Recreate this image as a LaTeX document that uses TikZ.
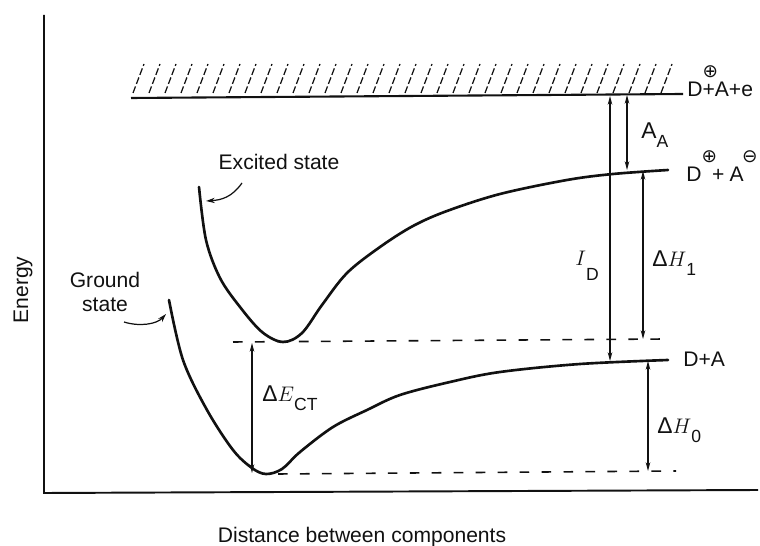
\documentclass[tikz,border=0pt]{standalone}
\usepackage{fontspec}
\setmainfont{Liberation Sans}
\newfontfamily\symfont{DejaVu Sans}
\usetikzlibrary{arrows.meta}
\definecolor{inkblack}{HTML}{111111}

\newcommand{\sbx}[2][-5pt]{\raisebox{#1}{\fontsize{10}{10}\selectfont #2}}
\newcommand{\chg}[1]{\rlap{\raisebox{11pt}{\symfont\fontsize{10.5}{10.5}\selectfont #1}}}

\tikzset{
  axisline/.style={inkblack, line width=1.1pt},
  pecurve/.style={inkblack, line width=1.5pt, line cap=round},
  levelline/.style={inkblack, line width=1.2pt},
  guide/.style={inkblack, line width=0.9pt, dash pattern=on 5.5pt off 7pt},
  hatchline/.style={inkblack, line width=0.7pt, dash pattern=on 4pt off 1.5pt},
  gap/.style={{Stealth[length=5pt,width=2.6pt]}-{Stealth[length=5pt,width=2.6pt]}, inkblack, line width=0.6pt},
  pointer/.style={-{Stealth[length=5pt,width=3pt]}, inkblack, line width=0.7pt},
  lbl/.style={inkblack, font=\fontsize{12}{14}\selectfont, inner sep=0pt},
  mlbl/.style={inkblack, font=\fontsize{13}{15}\selectfont, inner sep=0pt, anchor=base west},
}

\begin{document}
\begin{tikzpicture}[x=0.02cm, y=-0.02cm, >=Stealth]
  \useasboundingbox (0,0) rectangle (760,546);

  % axes
  \coordinate (ytop) at (44,15);
  \coordinate (origin) at (44,493);
  \coordinate (xend) at (758,490);
  \draw[axisline] (ytop) -- (origin) -- (xend);

  % vacuum level, hatched above
  \coordinate (vacL) at (131,98);
  \coordinate (vacR) at (683,94);
  \foreach \x in {133,149,...,668}
    \draw[hatchline] (\x,93) -- ++(11,-29);
  \draw[levelline] (vacL) -- (vacR);

  % excited state curve
  \coordinate (exStart) at (199,187);
  \coordinate (exR) at (668,170);
  \draw[pecurve] plot[smooth, tension=0.55] coordinates {
    (199,187) (206,240) (220,278) (240,307) (262,332) (283,342) (302,333)
    (322,305) (347,273) (380,247) (413,226) (447,211) (500,194) (567,180)
    (613,174) (668,170)};

  % ground state curve
  \coordinate (grStart) at (169,300);
  \coordinate (grR) at (668,360);
  \draw[pecurve] plot[smooth, tension=0.55] coordinates {
    (169,300) (183,360) (207,410) (233,450) (252,468) (266,474) (282,469)
    (300,452) (333,427) (367,410) (400,395) (450,382) (500,372) (580,364)
    (668,360)};

  % dashed minima
  \coordinate (exLvlL) at (233,342);
  \coordinate (exLvlR) at (665,339);
  \coordinate (grLvlL) at (278,474);
  \coordinate (grLvlR) at (676,471);
  \draw[guide] (exLvlL) -- (exLvlR);
  \draw[guide] (grLvlL) -- (grLvlR);

  % energy gaps
  \coordinate (ctTop) at (252,343);
  \coordinate (ctBot) at (252,473);
  \coordinate (idTop) at (610,96);
  \coordinate (idBot) at (610,361);
  \coordinate (aaTop) at (627,95);
  \coordinate (aaBot) at (627,170);
  \coordinate (dhiTop) at (643,171);
  \coordinate (dhiBot) at (643,339);
  \coordinate (dhoTop) at (648,361);
  \coordinate (dhoBot) at (648,471);
  \draw[gap] (ctTop) -- (ctBot);
  \draw[gap] (idTop) -- (idBot);
  \draw[gap] (aaTop) -- (aaBot);
  \draw[gap] (dhiTop) -- (dhiBot);
  \draw[gap] (dhoTop) -- (dhoBot);

  % gap labels
  \node[mlbl] (ctlbl) at (262,402) {Δ$E$\sbx{CT}};
  \node[mlbl] (idlbl) at (575,266) {$I$\sbx[-8pt]{D}};
  \node[mlbl] (aalbl) at (641,139) {A\sbx{A}};
  \node[mlbl] (dhilbl) at (652,267) {Δ$H$\sbx{1}};
  \node[mlbl] (dholbl) at (657,434) {Δ$H$\sbx{0}};

  % level labels
  \node[lbl, anchor=base west] (vaclbl) at (687,97) {D\chg{⊕}+A+e};
  \node[lbl, anchor=base west] (ionlbl) at (686,182)
    {D\chg{⊕}\hspace{6pt}+\hspace{3pt}A\kern-1pt\chg{⊖}};
  \node[lbl, anchor=base west] (neulbl) at (683,367) {D+A};

  % state labels with pointers
  \node[lbl] (exlbl) at (279,162) {Excited state};
  \node[lbl, align=center] (grlbl) at (105,292) {Ground\\state};
  \coordinate (exTail) at (242,183);
  \coordinate (exTip) at (206,201);
  \coordinate (grTail) at (124,322);
  \coordinate (grTip) at (166,314);
  \draw[pointer] (exTail) .. controls (232,197) and (222,200) .. (exTip);
  \draw[pointer] (grTail) .. controls (140,327) and (157,324) .. (grTip);

  % axis titles
  \node[lbl, rotate=90] (energy) at (23,290) {Energy};
  \node[lbl] (xlbl) at (362,537) {Distance between components};
\end{tikzpicture}
\end{document}
